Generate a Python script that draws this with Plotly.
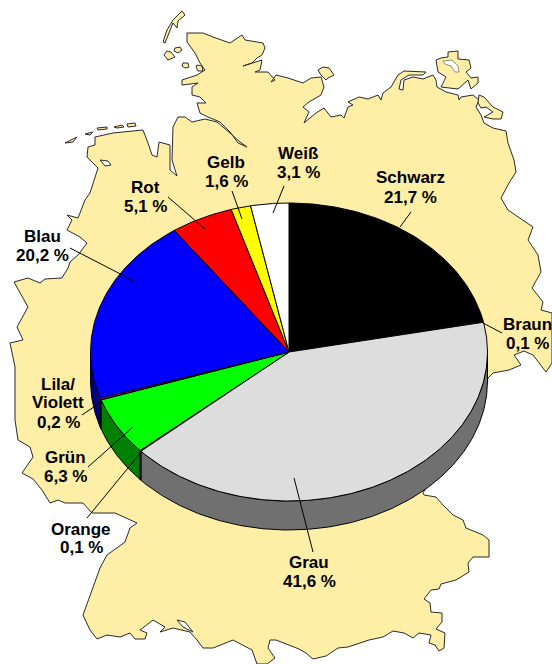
import numpy as np
import plotly.graph_objects as go

# Pie data
categories = ["Schwarz", "Braun", "Grau", "Orange", "Grün", "Lila/|Violett", "Blau", "Rot", "Gelb", "Weiß"]
shares = [21.7, 0.1, 41.6, 0.1, 6.3, 0.2, 20.2, 5.1, 1.6, 3.1]
top_colors = ["#000000", "#8B4513", "#DDDDDD", "#FF8000", "#00FF00", "#B000B0", "#0000FF", "#FF0000", "#FFFF00", "#FFFFFF"]
side_colors = ["#000000", "#4A2409", "#707070", "#804000", "#008000", "#580058", "#000080", "#800000", "#808000", "#808080"]
label_x = [410, 527, 309, 81, 65, 58, 42, 145, 226, 298]
label_line_y = [[177, 197], [324, 343], [562, 581], [529, 547], [457, 476], [384, 402, 422], [236, 255], [187, 206], [162, 181], [153, 172]]
leader_from_x = [411, 483, 294, 142, 133, 101, 134, 205, 242, 273]
leader_from_y = [212, 323, 478, 451, 427, 402, 281, 229, 219, 213]
leader_to_x = [400, 502, 313, 87, 88, 82, 70, 168, 232, 284]
leader_to_y = [227, 333, 552, 518, 467, 415, 248, 197, 191, 186]

# Map outline (Germany)
main_x = [187,193,203,213,230,242,245,263,265,262,257,252,243,252,262,260,255,268,275,271,276,288,303,311,321,324,321,309,303,309,304,316,324,331,341,344,348,353,348,359,368,378,381,383,391,398,404,426,423,409,401,399,403,404,413,423,433,436,437,446,458,459,461,473,479,476,481,484,493,506,508,514,516,509,501,508,523,533,528,538,541,532,543,541,552,552,546,539,533,524,514,521,509,493,488,423,424,436,443,453,463,466,483,489,489,473,468,469,456,441,439,431,424,430,431,442,442,436,445,444,439,435,429,431,419,413,404,393,383,369,348,338,326,313,306,299,286,276,270,268,275,267,257,252,233,213,203,197,190,173,160,165,153,143,140,147,145,135,130,120,107,97,90,83,93,100,107,125,130,137,115,92,83,65,58,50,42,33,22,33,30,18,15,15,10,23,17,28,23,14,28,40,45,62,68,70,78,87,80,67,72,67,78,85,90,98,87,88,95,95,113,143,148,152,157,159,170,170,177,172,173,178,185,192,205,217,230,240,247,238,230,220,208,200,197,206,200,192,192,198,182,182,197,205,200,195,187,187]
main_y = [33,33,33,37,43,35,40,43,48,55,58,63,66,63,60,70,72,72,80,82,75,78,83,78,77,87,95,102,107,112,123,113,108,117,115,118,107,105,102,97,99,95,100,93,87,75,71,72,75,75,80,89,90,80,77,79,75,80,87,92,95,100,97,95,100,107,115,123,128,131,143,160,172,183,198,210,220,227,240,255,272,288,302,310,313,363,372,363,355,351,355,365,370,373,378,493,495,497,505,515,520,528,535,540,557,557,563,572,580,584,589,590,599,603,612,613,622,629,633,648,651,645,643,635,633,638,633,631,637,640,647,648,656,659,653,649,644,640,640,648,658,664,664,650,640,648,648,640,632,628,632,627,620,627,630,633,639,639,633,637,635,639,630,615,587,568,555,542,528,523,513,513,503,503,500,503,490,479,473,457,447,440,420,367,343,340,327,307,298,282,278,283,279,278,268,262,255,243,237,230,220,215,218,200,193,168,157,147,145,137,133,130,143,155,157,142,145,170,176,160,127,117,117,122,119,122,133,142,147,143,132,122,117,113,103,103,97,95,87,83,85,80,75,70,63,53,42,33]
islands = {
    "Sylt": ([182,185,178,177,173,165,163,167,173,182], [11,15,21,28,23,43,42,30,20,11]),
    "Foehr": ([175,180,182,178,174,175], [48,47,50,53,51,48]),
    "Amrum": ([167,171,175,168,164,167], [51,52,57,60,55,51]),
    "Pellworm": ([183,188,189,185,182,183], [63,63,67,68,66,63]),
    "Nordstrand": ([197,202,203,198,196,197], [65,66,71,71,67,65]),
    "Borkum": ([65,77,73,67,65], [143,137,142,143,143]),
    "Juist": ([85,93,90,85], [134,132,135,134]),
    "Norderney": ([97,107,107,98,97], [128,127,129,130,128]),
    "Baltrum": ([114,122,124,117,114], [127,125,127,128,127]),
    "Langeoog": ([127,135,136,128,127], [124,123,126,127,124]),
    "Fehmarn": ([318,323,329,334,328,326,321,318], [70,67,68,75,78,80,75,70]),
    "Ruegen": ([436,441,448,448,458,458,469,471,466,471,478,478,471,468,458,441,446,439,438,436], [60,58,57,52,51,59,60,68,72,78,77,83,89,80,89,87,77,72,72,60]),
    "Usedom": ([479,484,493,503,501,493,484,493,486,481,478,479], [95,97,107,112,119,119,117,112,107,108,103,95]),
}
white_x = [100,108,111,105,100]
white_y = [160,161,165,166,160]
lake_x = [177,185,193,183,177]
lake_y = [620,622,632,627,620]
ruegen_in_x = [443,452,458,459,455,451,445,443]
ruegen_in_y = [61,60,66,72,72,66,64,61]

LAND = "#FFEEA5"
CX, CY, RX, RY, DEPTH = 289, 352, 198.5, 149, 29

fig = go.Figure()


def poly(x, y, fill, line="#2A2A2A", width=1):
    fig.add_trace(go.Scatter(x=x, y=y, mode="lines", fill="toself", fillcolor=fill,
                             line=dict(color=line, width=width), hoverinfo="skip", showlegend=False))


poly(main_x, main_y, LAND)
for ix, iy in islands.values():
    poly(ix, iy, LAND)
poly(white_x, white_y, "#FFFFFF")
poly(lake_x, lake_y, "#FFFFFF")
poly(ruegen_in_x, ruegen_in_y, "#FFFFFF", width=0.5)

edges = np.cumsum([0] + shares) / sum(shares) * 2 * np.pi


def arc(a, b):
    t = np.linspace(a, b, max(3, int(abs(b - a) * 80)))
    return CX + RX * np.sin(t), CY - RY * np.cos(t)


# Rim of the front half
for i in range(len(shares)):
    a, b = max(edges[i], np.pi / 2), min(edges[i + 1], 3 * np.pi / 2)
    if b <= a:
        continue
    x, y = arc(a, b)
    poly(list(x) + list(x[::-1]) + [x[0]], list(y + DEPTH) + list(y[::-1]) + [y[0] + DEPTH], side_colors[i], "#000000", 1)

# Top face
for i in range(len(shares)):
    x, y = arc(edges[i], edges[i + 1])
    poly([CX] + list(x) + [CX], [CY] + list(y) + [CY], top_colors[i], "#000000", 1)

# Leader lines and labels
for i in range(len(shares)):
    fig.add_trace(go.Scatter(x=[leader_from_x[i], leader_to_x[i]], y=[leader_from_y[i], leader_to_y[i]],
                             mode="lines", line=dict(color="#000000", width=1), hoverinfo="skip", showlegend=False))
    lines = categories[i].split("|") + [f"{str(shares[i]).replace('.', ',')} %"]
    for text, y in zip(lines, label_line_y[i]):
        fig.add_annotation(x=label_x[i], y=y, xref="x", yref="y", showarrow=False, align="center",
                           text=f"<b>{text}</b>",
                           font=dict(family="Liberation Sans, Arial, sans-serif", size=17, color="#000000"))

fig.update_layout(width=552, height=664, margin=dict(l=0, r=0, t=0, b=0), autosize=False,
                  paper_bgcolor="#FFFFFF", plot_bgcolor="#FFFFFF", showlegend=False,
                  xaxis=dict(range=[0, 552], visible=False, fixedrange=True),
                  yaxis=dict(range=[664, 0], visible=False, fixedrange=True))
fig.write_html("out.html", config={"displayModeBar": False},
               post_script="document.body.style.margin='0';document.documentElement.style.overflow='hidden';")
